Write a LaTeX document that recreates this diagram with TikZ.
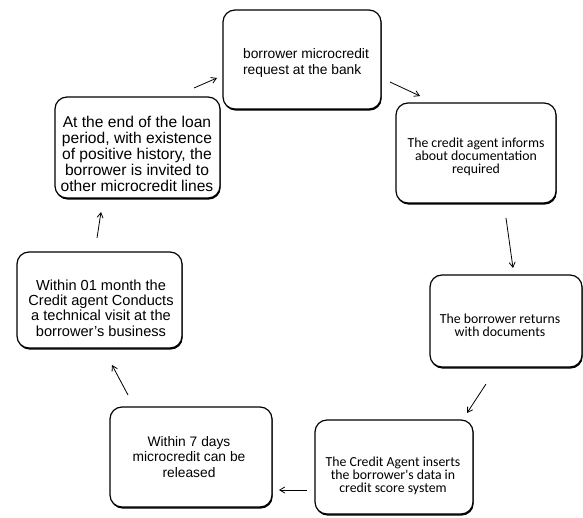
\documentclass[tikz,border=0pt]{standalone}
\usepackage{fontspec}
\setmainfont{Liberation Sans}
\newfontfamily\calib{Carlito}
\usetikzlibrary{shadows,arrows.meta}
\begin{document}
\begin{tikzpicture}[x=1pt,y=-1pt,
  stepbox/.style={draw=black,line width=1.2pt,rounded corners=12pt,fill=white,
    drop shadow={shadow xshift=0.7pt,shadow yshift=-1.6pt,fill=black,opacity=1}},
  arialtxt/.style={font=\fontsize{13.8}{15.7}\selectfont,align=center,inner sep=0pt},
  calibtxt/.style={font=\calib\fontsize{13.8}{13}\selectfont,align=center,inner sep=0pt},
  flow/.style={line width=0.8pt,-{Straight Barb[length=5pt,width=6pt]}}]
\fill[white] (0,0) rectangle (583,518);
\useasboundingbox (0,0) rectangle (583,518);

% boxes
\node[stepbox,minimum width=158pt,minimum height=99pt] (b1) at (302,59.5) {};
\node[stepbox,minimum width=160pt,minimum height=100pt] (b2) at (476,153) {};
\node[stepbox,minimum width=152pt,minimum height=92pt] (b5) at (506,321) {};
\node[stepbox,minimum width=158pt,minimum height=94pt] (b7) at (394,467) {};
\node[stepbox,minimum width=162pt,minimum height=100pt] (b6) at (191,457) {};
\node[stepbox,minimum width=165pt,minimum height=96pt] (b4) at (99.5,300) {};
\node[stepbox,minimum width=165pt,minimum height=101pt] (b3) at (137.5,147.5) {};

% texts
\node[arialtxt,align=left] (t1) at (306,63) {borrower microcredit\\request at the bank};
\node[calibtxt] (t2) at (476,157) {The credit agent informs\\about documentation\\required};
\node[calibtxt] (t5) at (500,325) {The borrower returns\\with documents};
\node[calibtxt] (t7) at (393,476) {The Credit Agent inserts\\the borrower's data in\\credit score system};
\node[arialtxt] (t6) at (189,457) {Within 7 days\\microcredit can be\\released};
\node[arialtxt,font=\fontsize{14.6}{15.2}\selectfont] (t4) at (101,308) {Within 01 month the\\Credit agent Conducts\\a technical visit at the\\borrower's business};
\node[arialtxt,font=\fontsize{15.6}{15.8}\selectfont] (t3) at (137,154) {At the end of the loan\\period, with existence\\of positive history, the\\borrower is invited to\\other microcredit lines};

% arrow end points
\coordinate (a1s) at (390,82);  \coordinate (a1e) at (420,96);
\coordinate (a2s) at (506,218); \coordinate (a2e) at (513,268);
\coordinate (a3s) at (486,384); \coordinate (a3e) at (467,413);
\coordinate (a4s) at (307,490); \coordinate (a4e) at (279,490);
\coordinate (a5s) at (128,395); \coordinate (a5e) at (112,365);
\coordinate (a6s) at (97,238);  \coordinate (a6e) at (101,212);
\coordinate (a7s) at (194,88);  \coordinate (a7e) at (217,78);

\draw[flow] (a1s) -- (a1e);
\draw[flow] (a2s) -- (a2e);
\draw[flow] (a3s) -- (a3e);
\draw[flow] (a4s) -- (a4e);
\draw[flow] (a5s) -- (a5e);
\draw[flow] (a6s) -- (a6e);
\draw[flow] (a7s) -- (a7e);
\end{tikzpicture}
\end{document}
